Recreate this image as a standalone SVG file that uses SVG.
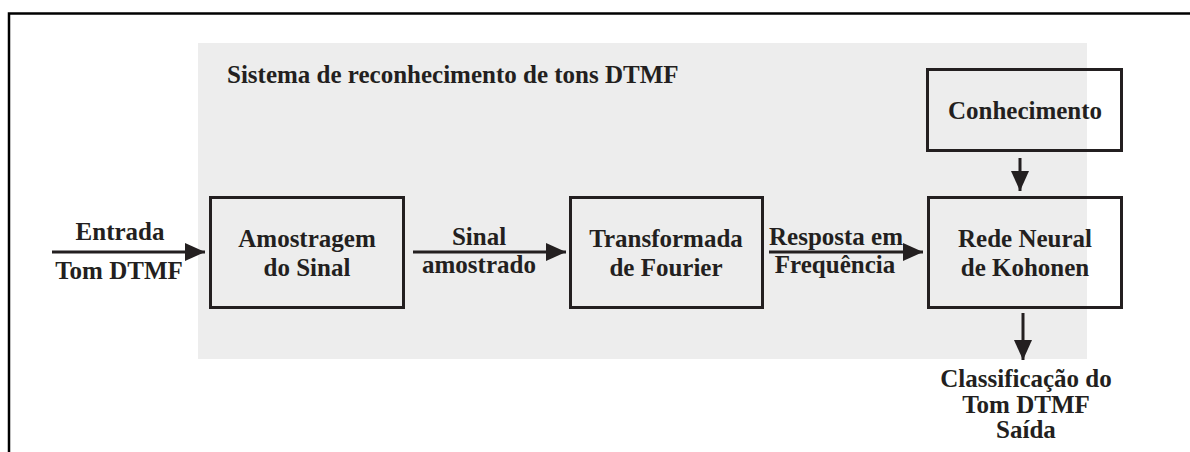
<svg xmlns="http://www.w3.org/2000/svg" width="1190" height="452" viewBox="0 0 1190 452">
  <defs>
    <style>
      text { font-family: "Liberation Serif", "Times New Roman", serif; font-weight: bold; font-size: 25px; fill: #231f20; }
      .c { text-anchor: middle; }
      .box { fill: none; stroke: #231f20; stroke-width: 3; }
      .conn { stroke: #231f20; stroke-width: 3; fill: none; }
      .frame { stroke: #000; stroke-width: 2.5; fill: none; }
    </style>
    <marker id="arrow" viewBox="0 0 20 18" refX="20" refY="9" markerWidth="20" markerHeight="18" markerUnits="userSpaceOnUse" orient="auto">
      <path d="M0,0 L20,9 L0,18 Z" fill="#231f20"/>
    </marker>
  </defs>

  <rect width="1190" height="452" fill="#ffffff"/>
  <path class="frame" d="M9,452 L9,13.5 L1190,13.5"/>

  <g id="system">
    <rect x="198" y="43" width="889" height="316" fill="#ededed"/>
    <text x="227" y="83">Sistema de reconhecimento de tons DTMF</text>
  </g>

  <g id="conhecimento">
    <rect class="box" x="927.5" y="69.5" width="194" height="81"/>
    <text class="c" x="1025" y="119">Conhecimento</text>
  </g>

  <g id="amostragem">
    <rect class="box" x="210.5" y="197.5" width="193" height="110"/>
    <text class="c" x="307" y="247">Amostragem</text>
    <text class="c" x="307" y="276">do Sinal</text>
  </g>

  <g id="transformada">
    <rect class="box" x="570.5" y="197.5" width="192" height="110"/>
    <text class="c" x="666" y="247">Transformada</text>
    <text class="c" x="666" y="276">de Fourier</text>
  </g>

  <g id="rede">
    <rect class="box" x="928.5" y="197.5" width="193" height="110"/>
    <text class="c" x="1025" y="247">Rede Neural</text>
    <text class="c" x="1025" y="276">de Kohonen</text>
  </g>

  <g id="connectors">
    <line class="conn" x1="52" y1="252" x2="205" y2="252" marker-end="url(#arrow)"/>
    <line class="conn" x1="413" y1="252" x2="566" y2="252" marker-end="url(#arrow)"/>
    <line class="conn" x1="769" y1="252" x2="923" y2="252" marker-end="url(#arrow)"/>
    <line class="conn" x1="1020" y1="158" x2="1020" y2="191" marker-end="url(#arrow)"/>
    <line class="conn" x1="1023" y1="313" x2="1023" y2="360" marker-end="url(#arrow)"/>
  </g>

  <g id="labels">
    <text class="c" x="120" y="240">Entrada</text>
    <text class="c" x="119" y="279">Tom DTMF</text>
    <text class="c" x="479" y="245">Sinal</text>
    <text class="c" x="479" y="273">amostrado</text>
    <text x="769" y="245">Resposta em</text>
    <text class="c" x="835" y="273">Frequência</text>
  </g>

  <g id="saida">
    <text class="c" x="1026" y="387">Classificação do</text>
    <text class="c" x="1026" y="413">Tom DTMF</text>
    <text class="c" x="1026" y="438">Saída</text>
  </g>
</svg>
